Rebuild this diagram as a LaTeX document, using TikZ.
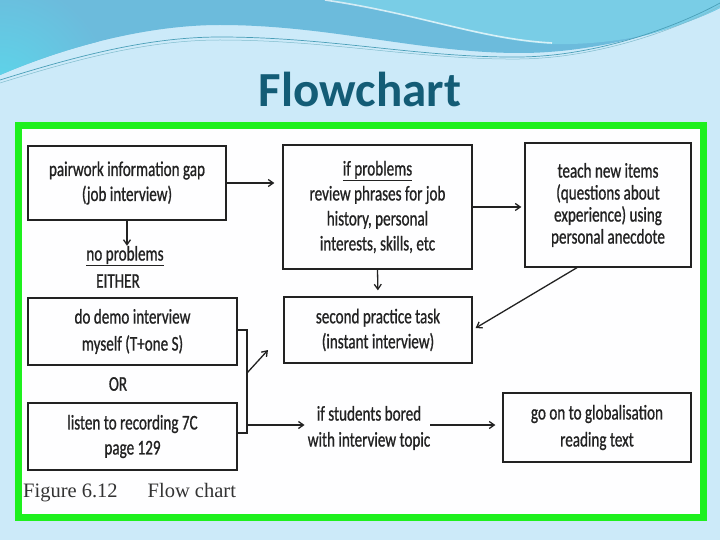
\documentclass[tikz,border=0pt]{standalone}
\usepackage{fontspec}
\setmainfont{Carlito}
\newfontfamily\hand[FakeStretch=0.72,FakeBold=0.8]{Carlito}
\newfontfamily\capfont{Liberation Serif}
\usetikzlibrary{arrows.meta}
\definecolor{bgblue}{HTML}{CCEAF9}
\definecolor{waveblue}{HTML}{6CBBDC}
\definecolor{wavecyan}{HTML}{5CD6EA}
\definecolor{wavelight}{HTML}{79CDE6}
\definecolor{waveline}{HTML}{4A9FB8}
\definecolor{titlecol}{HTML}{135C76}
\definecolor{framegreen}{HTML}{1EF01E}
\definecolor{ink}{HTML}{222222}
\tikzset{
  box/.style={draw=ink, line width=1.3pt, inner sep=0pt, align=center, text=ink,
    font=\hand\fontsize{21}{25}\selectfont},
  hw/.style={inner sep=0pt, align=center, text=ink, font=\hand\fontsize{21}{25}\selectfont},
  conn/.style={draw=ink, line width=1.3pt},
  arr/.style={conn, -{Straight Barb[length=5pt,width=7pt]}},
}
\begin{document}
\begin{tikzpicture}[x=1pt,y=-1pt]
\useasboundingbox (0,0) rectangle (720,540);
% background
\fill[bgblue] (0,0) rectangle (720,540);
% top wave
\begin{scope}
\clip (0,0) -- (720,0) -- (720,8) .. controls (680,28) and (600,53) .. (520,53)
  .. controls (420,53) and (330,25) .. (220,25) .. controls (150,25) and (70,45) .. (0,75) -- cycle;
\fill[waveblue] (0,0) rectangle (720,80);
\shade[inner color=wavecyan, outer color=waveblue] (0,90) circle (110);
\fill[wavelight] (330,0) .. controls (420,15) and (480,40) .. (550,44)
  .. controls (630,46) and (690,24) .. (720,12) -- (720,0) -- cycle;
\draw[white, line width=1.6pt, opacity=0.7] (325,0) .. controls (420,14) and (480,39) .. (552,43);
\end{scope}
\draw[waveline, line width=0.7pt] (0,80) .. controls (80,55) and (150,37) .. (220,37)
  .. controls (330,37) and (420,58) .. (520,57) .. controls (600,56) and (680,25) .. (720,3);
\draw[waveline!70, line width=0.5pt] (0,83) .. controls (80,58) and (150,40) .. (220,40)
  .. controls (330,40) and (420,60) .. (520,59) .. controls (600,58) and (680,28) .. (720,6);
% title
\node[font=\bfseries\fontsize{49}{50}\selectfont, text=titlecol, anchor=base] (title) at (360,107) {Flowchart};
% frame
\fill[white!98!bgblue] (18.5,125.5) rectangle (703.5,517.5);
\draw[framegreen, line width=7pt] (18.5,125.5) rectangle (703.5,517.5);
% boxes
\node[box, minimum width=198pt, minimum height=74pt] (b1) at (127,183) {pairwork information gap\\(job interview)};
\node[box, minimum width=189pt, minimum height=124pt] (b2) at (377.5,207) {\underline{if problems}\\review phrases for job\\history, personal\\interests, skills, etc};
\node[box, minimum width=166pt, minimum height=124pt, font=\hand\fontsize{21}{22}\selectfont] (b3) at (608,205) {teach new items\\(questions about\\experience) using\\personal anecdote};
\node[box, minimum width=188pt, minimum height=66pt] (b4) at (378,330) {second practice task\\(instant interview)};
\node[box, minimum width=209pt, minimum height=67pt, font=\hand\fontsize{21}{27}\selectfont] (b5) at (132.5,331.5) {do demo interview\\myself (T+one S)};
\node[box, minimum width=209pt, minimum height=67pt] (b6) at (132.5,436.5) {listen to recording 7C\\page 129};
\node[box, minimum width=188pt, minimum height=69pt, font=\hand\fontsize{21}{27}\selectfont] (b7) at (597,427.5) {go on to globalisation\\reading text};
% free texts
\node[hw] (np) at (125,256) {\underline{no problems}};
\node[hw] (either) at (118,281) {EITHER};
\node[hw] (or) at (118,384) {OR};
\node[hw, font=\hand\fontsize{21}{26}\selectfont] (bored) at (369,428) {if students bored\\with interview topic};
\node[anchor=base west, font=\capfont\fontsize{20.5}{21}\selectfont, text=black!80, inner sep=0pt] (cap) at (23,497) {Figure 6.12\hspace{30pt}Flow chart};
% connectors
\draw[arr, shorten >=8pt] (b1.east) -- (b1.east -| b2.west);
\draw[arr, shorten >=3pt] (b2.east) -- (b2.east -| b3.west);
\draw[arr] (b1.south) -- (b1.south |- np.north);
\draw[arr, shorten >=6pt] (b2.south) -- (b4.north);
\draw[arr] ([xshift=-31pt]b3.south) -- ([xshift=3pt,yshift=2pt]b4.east);
\coordinate (br1) at (247,330);
\coordinate (br2) at (247,433);
\coordinate (a1) at (247,373);
\coordinate (a1e) at (268,350);
\coordinate (a2) at (247,425);
\draw[conn] (b5.east |- br1) -- (br1) -- (br2) -- (b6.east |- br2);
\draw[arr] (a1) -- (a1e);
\draw[arr, shorten >=3pt] (a2) -- (a2 -| bored.west);
\draw[arr, shorten >=7pt] (bored.east |- a2) -- (b7.west |- a2);
\end{tikzpicture}
\end{document}
